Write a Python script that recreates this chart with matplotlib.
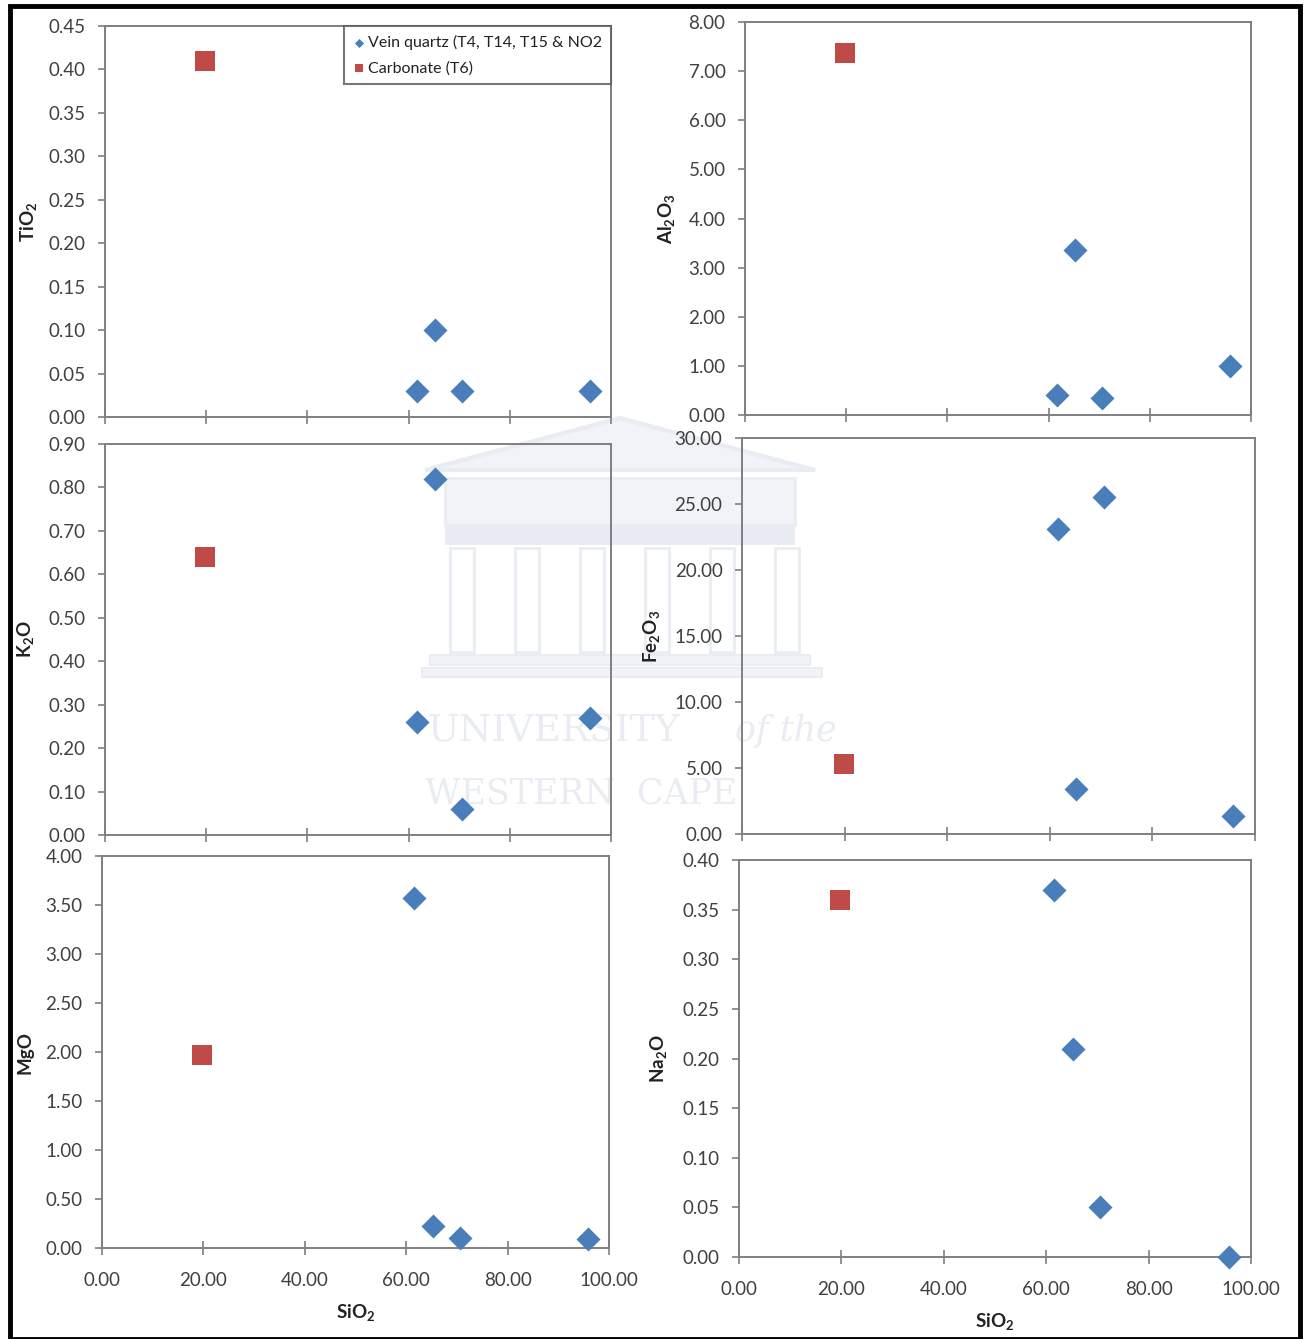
import matplotlib
matplotlib.use("Agg")
import matplotlib.pyplot as plt
from matplotlib.patches import Rectangle, Polygon
from matplotlib.ticker import MultipleLocator, FormatStrFormatter, NullFormatter

plt.rcParams['font.family'] = ['Lato', 'DejaVu Sans']
plt.rcParams['mathtext.fontset'] = 'custom'
plt.rcParams['mathtext.rm'] = 'Lato'
plt.rcParams['mathtext.bf'] = 'Lato:bold'

# ---- data ----
vein_sio2 = [61.6, 65.2, 70.6, 95.8]
carb_sio2 = [19.8]

tio2_vein = [0.03, 0.10, 0.03, 0.03]
tio2_carb = [0.41]
al2o3_vein = [0.41, 3.36, 0.35, 1.00]
al2o3_carb = [7.37]
k2o_vein = [0.26, 0.82, 0.06, 0.27]
k2o_carb = [0.64]
fe2o3_vein = [23.1, 3.4, 25.5, 1.36]
fe2o3_carb = [5.3]
mgo_vein = [3.57, 0.22, 0.10, 0.09]
mgo_carb = [1.97]
na2o_vein = [0.37, 0.21, 0.05, 0.00]
na2o_carb = [0.36]

x_ticks = [0, 20, 40, 60, 80, 100]
legend_labels = ["Vein quartz (T4, T14, T15 & NO2", "Carbonate (T6)"]

W, H = 1306, 1339
fig = plt.figure(figsize=(W / 100, H / 100), dpi=100)

def frac(l, r, t, b):
    return [l / W, 1 - b / H, (r - l) / W, (b - t) / H]

def fx(px):
    return px / W

def fy(py):
    return 1 - py / H

panels = [
    # (rect px l,r,t,b), ylabel, ymax, ystep, vein, carb, xlabels, ylabel offset
    ((105, 611, 26, 417), r'TiO$_\mathbf{2}$', 0.45, 0.05, tio2_vein, tio2_carb, False, 0.128),
    ((745, 1251, 22, 415), r'Al$_\mathbf{2}$O$_\mathbf{3}$', 8.0, 1.0, al2o3_vein, al2o3_carb, False, 0.132),
    ((105, 611, 444, 835), r'K$_\mathbf{2}$O', 0.9, 0.1, k2o_vein, k2o_carb, False, 0.134),
    ((742, 1255, 438, 834), r'Fe$_\mathbf{2}$O$_\mathbf{3}$', 30.0, 5.0, fe2o3_vein, fe2o3_carb, False, 0.154),
    ((102, 609, 856, 1248), 'MgO', 4.0, 0.5, mgo_vein, mgo_carb, True, 0.136),
    ((739, 1251, 860, 1257), r'Na$_\mathbf{2}$O', 0.4, 0.05, na2o_vein, na2o_carb, True, 0.135),
]

blue = '#4A7EBB'
red = '#BE4B48'
axcol = '#7F7F7F'
txtcol = '#404040'
wm = '#E9ECF3'
wm2 = '#F1F3F8'

# ---- faint watermark (temple + text), behind everything ----
def fpoly(pts, **kw):
    fig.patches.append(Polygon([(fx(x), fy(y)) for x, y in pts], closed=True,
                               transform=fig.transFigure, zorder=-5, **kw))

fpoly([(425, 470), (620, 418), (815, 470)], facecolor=wm2, edgecolor=wm, linewidth=3)
fpoly([(445, 478), (795, 478), (795, 525), (445, 525)], facecolor=wm2, edgecolor=wm, linewidth=2)
fpoly([(445, 525), (795, 525), (795, 545), (445, 545)], facecolor=wm, edgecolor='none')
for cx in [462, 527, 592, 657, 722, 787]:
    fpoly([(cx - 12, 548), (cx + 12, 548), (cx + 12, 652), (cx - 12, 652)],
          facecolor='none', edgecolor=wm, linewidth=2)
fpoly([(430, 655), (810, 655), (810, 665), (430, 665)], facecolor=wm2, edgecolor=wm, linewidth=1.5)
fpoly([(422, 668), (822, 668), (822, 677), (422, 677)], facecolor=wm2, edgecolor=wm, linewidth=1.5)

fig.text(fx(427), fy(741), 'UNIVERSITY', ha='left', va='baseline', fontsize=27,
         family=['DejaVu Serif'], color=wm, zorder=-5)
fig.text(fx(735), fy(741), 'of the', ha='left', va='baseline', fontsize=25,
         family=['DejaVu Serif'], style='italic', color=wm, zorder=-5)
fig.text(fx(425), fy(803), 'WESTERN  CAPE', ha='left', va='baseline', fontsize=25,
         family=['DejaVu Serif'], color=wm, zorder=-5)

axes = []
for rect, ylab, ymax, ystep, vein, carb, xlabels, yoff in panels:
    ax = fig.add_axes(frac(*rect))
    ax.set_zorder(1)
    ax.patch.set_alpha(0)
    ax.scatter(vein_sio2, vein, marker='D', s=150, color=blue, zorder=3,
               label=legend_labels[0], linewidths=0, clip_on=False)
    ax.scatter(carb_sio2, carb, marker='s', s=190, color=red, zorder=3,
               label=legend_labels[1], linewidths=0, clip_on=False)
    ax.set_xlim(0, 100)
    ax.set_ylim(0, ymax)
    ax.set_xticks(x_ticks)
    ax.yaxis.set_major_locator(MultipleLocator(ystep))
    ax.yaxis.set_major_formatter(FormatStrFormatter('%.2f'))
    if xlabels:
        ax.xaxis.set_major_formatter(FormatStrFormatter('%.2f'))
        ax.set_xlabel(r'SiO$_\mathbf{2}$', fontsize=13.5, fontweight='bold',
                      color='#222222', labelpad=10)
    else:
        ax.xaxis.set_major_formatter(NullFormatter())
    ax.tick_params(axis='x', direction='inout', length=10, width=1.2,
                   color=axcol, labelsize=13.5, labelcolor=txtcol, pad=12)
    ax.tick_params(axis='y', direction='out', length=5, width=1.2,
                   color=axcol, labelsize=13.5, labelcolor=txtcol, pad=9)
    for sp in ax.spines.values():
        sp.set_color(axcol)
        sp.set_linewidth(1.4)
    ax.set_ylabel(ylab, fontsize=13.5, fontweight='bold', color='#222222')
    ax.yaxis.set_label_coords(-yoff, 0.5)
    axes.append(ax)

leg = axes[0].legend(loc='upper right', frameon=True, fancybox=False,
                     fontsize=11.5, markerscale=0.38, handletextpad=0.15,
                     borderpad=0.55, labelspacing=0.7, handlelength=0.8,
                     borderaxespad=0.0)
leg.get_frame().set_edgecolor('#555555')
leg.get_frame().set_linewidth(1.5)
for t in leg.get_texts():
    t.set_color('#222222')

# outer black frame
fig.patches.append(Rectangle((10 / W, 0.0), (1300 - 10) / W, 1 - 6 / H,
                             transform=fig.transFigure, fill=False,
                             edgecolor='black', linewidth=3.5, zorder=10))

fig.savefig('out.png', dpi=100)
